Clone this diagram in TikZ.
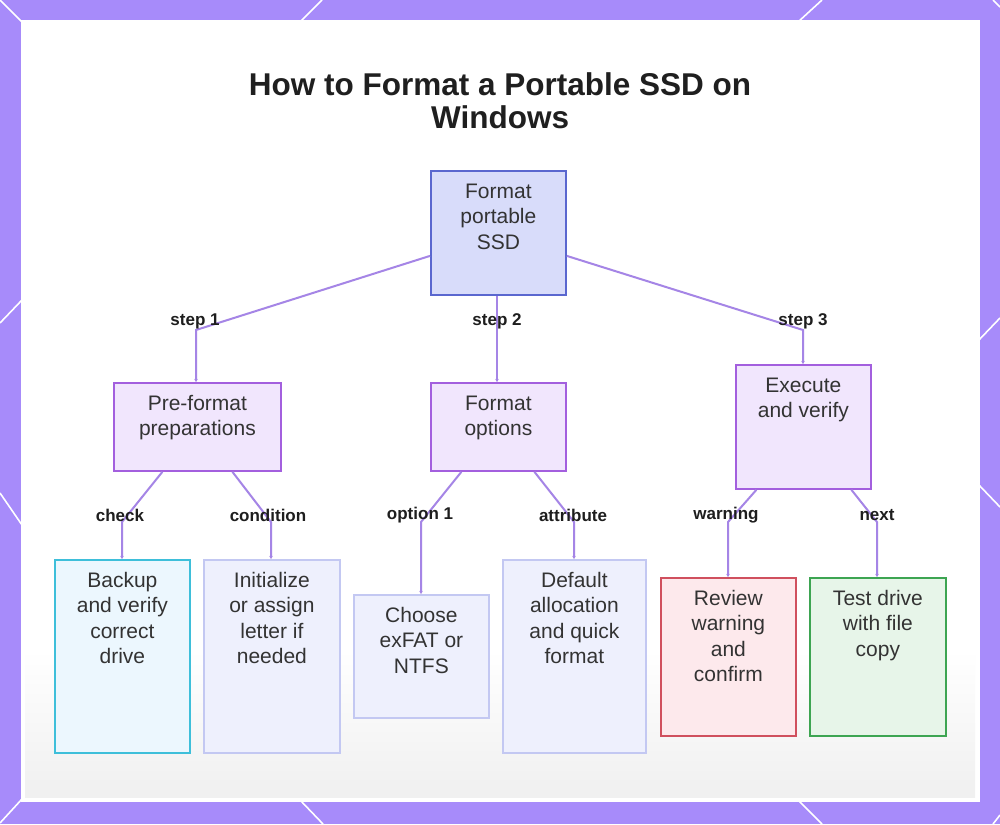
\documentclass[tikz,border=0pt]{standalone}
\usepackage{fontspec}
\setmainfont{Liberation Sans}
\usetikzlibrary{arrows.meta}
\definecolor{frame}{HTML}{A78BFA}
\definecolor{edgec}{HTML}{A585E6}
\definecolor{txt}{HTML}{333333}
\definecolor{lbl}{HTML}{1E1E1E}
\definecolor{rootfill}{HTML}{D8DCFA}\definecolor{rootdraw}{HTML}{5A67CF}
\definecolor{purfill}{HTML}{F1E6FD}\definecolor{purdraw}{HTML}{A35FDE}
\definecolor{cyfill}{HTML}{ECF7FE}\definecolor{cydraw}{HTML}{3EBFDA}
\definecolor{infill}{HTML}{EEF0FD}\definecolor{indraw}{HTML}{C3C8F2}
\definecolor{rdfill}{HTML}{FDE9EC}\definecolor{rddraw}{HTML}{D0505E}
\definecolor{grfill}{HTML}{E7F5E9}\definecolor{grdraw}{HTML}{3DA552}
\newcommand\boxtxt[3]{\parbox[t][#2][t]{#1}{\centering\fontsize{21}{25.5}\selectfont\color{txt}\rule{0pt}{27.5pt}#3}}
\tikzset{
  stepbox/.style={draw, line width=1.8pt, inner sep=0pt, anchor=north west},
  rootbox/.style={stepbox, fill=rootfill, draw=rootdraw},
  purbox/.style={stepbox, fill=purfill, draw=purdraw},
  cybox/.style={stepbox, fill=cyfill, draw=cydraw},
  inbox/.style={stepbox, fill=infill, draw=indraw},
  rdbox/.style={stepbox, fill=rdfill, draw=rddraw},
  grbox/.style={stepbox, fill=grfill, draw=grdraw},
  conn/.style={draw=edgec, line width=2pt, -{Stealth[length=3pt,width=3.5pt]}},
  elabel/.style={font=\fontsize{17}{20}\selectfont\bfseries, text=lbl, inner sep=0pt},
  deco/.style={draw=white, line width=1.6pt}
}
\begin{document}
\begin{tikzpicture}[x=1pt,y=-1pt]
\useasboundingbox (0,0) rectangle (1000,824);
% frame
\fill[frame] (0,0) rectangle (1000,824);
\draw[deco] (0,0) -- (22,22);
\draw[deco] (300,22) -- (322,0);
\draw[deco] (798,22) -- (822,0);
\draw[deco] (993,0) -- (1000,7);
\draw[deco] (22,300) -- (0,323);
\draw[deco] (0,493) -- (22,525);
\draw[deco] (977,342) -- (1000,318);
\draw[deco] (977,483) -- (1000,507);
\draw[deco] (22,799) -- (0,823);
\draw[deco] (300,800) -- (323,824);
\draw[deco] (798,800) -- (822,824);
\draw[deco] (1000,815) -- (993,824);
% panel
\fill[white] (22,22) rectangle (978,800);
\shade[top color=white, bottom color=black!6] (25,650) rectangle (975,797);
\draw[white, line width=3pt] (22,22) rectangle (978,800);
% title
\node (title) [anchor=north, inner sep=0pt, text=black!88] at (500,72)
  {\parbox{640pt}{\centering\fontsize{31.5}{33}\selectfont\bfseries How to Format a Portable SSD on\\Windows}};
% nodes
\node (root) [rootbox] at (430,170) {\boxtxt{135pt}{124pt}{Format\\portable\\SSD}};
\node (prep) [purbox] at (113,382) {\boxtxt{167pt}{88pt}{Pre-format\\preparations}};
\node (opts) [purbox] at (430,382) {\boxtxt{135pt}{88pt}{Format\\options}};
\node (exec) [purbox] at (735,364) {\boxtxt{135pt}{124pt}{Execute\\and verify}};
\node (backup) [cybox] at (54,559) {\boxtxt{135pt}{193pt}{Backup\\and verify\\correct\\drive}};
\node (init) [inbox] at (203,559) {\boxtxt{136pt}{193pt}{Initialize\\or assign\\letter if\\needed}};
\node (choose) [inbox] at (353,594) {\boxtxt{135pt}{123pt}{Choose\\exFAT or\\NTFS}};
\node (default) [inbox] at (502,559) {\boxtxt{143pt}{193pt}{Default\\allocation\\and quick\\format}};
\node (review) [rdbox] at (660,577) {\boxtxt{135pt}{158pt}{Review\\warning\\and\\confirm}};
\node (test) [grbox] at (809,577) {\boxtxt{136pt}{158pt}{Test drive\\with file\\copy}};
% bend coordinates
\coordinate (k1) at (196,330);
\coordinate (k2) at (497,330);
\coordinate (k3) at (803,330);
\coordinate (kcheck) at (122,522);
\coordinate (kcond) at (271,522);
\coordinate (kopt) at (421,522);
\coordinate (kattr) at (574,522);
\coordinate (kwarn) at (728,522);
\coordinate (knext) at (877,522);
% connectors
\draw[conn] ([yshift=-23pt]root.west) -- (k1) -- (k1 |- prep.north);
\draw[conn] (k2 |- root.south) -- (k2 |- opts.north);
\draw[conn] ([yshift=-23pt]root.east) -- (k3) -- (k3 |- exec.north);
\draw[conn] ([xshift=-35pt]prep.south) -- (kcheck) -- (kcheck |- backup.north);
\draw[conn] ([xshift=35pt]prep.south) -- (kcond) -- (kcond |- init.north);
\draw[conn] ([xshift=-37pt]opts.south) -- (kopt) -- (kopt |- choose.north);
\draw[conn] ([xshift=36pt]opts.south) -- (kattr) -- (kattr |- default.north);
\draw[conn] ([xshift=-47pt]exec.south) -- (kwarn) -- (kwarn |- review.north);
\draw[conn] ([xshift=48pt]exec.south) -- (knext) -- (knext |- test.north);
% labels
\node (l1) [elabel] at (195,321) {step 1};
\node (l2) [elabel] at (497,321) {step 2};
\node (l3) [elabel] at (803,321) {step 3};
\node (lcheck) [elabel] at (120,515) {check};
\node (lcond) [elabel] at (268,515) {condition};
\node (lopt) [elabel] at (420,515) {option 1};
\node (lattr) [elabel] at (573,515) {attribute};
\node (lwarn) [elabel] at (726,515) {warning};
\node (lnext) [elabel] at (877,515) {next};
\end{tikzpicture}
\end{document}
